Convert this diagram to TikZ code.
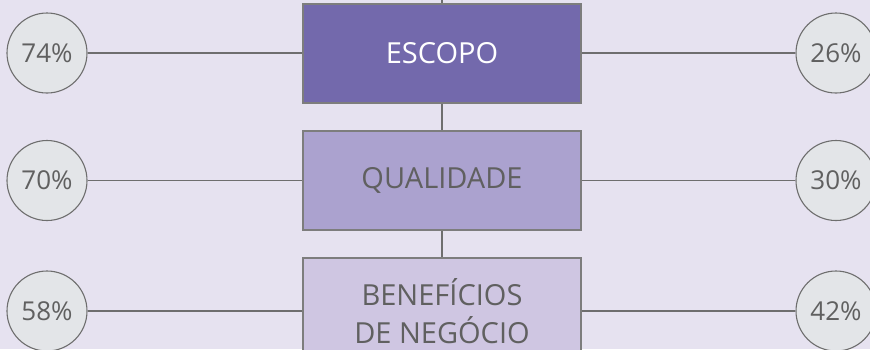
\documentclass[tikz,border=0pt]{standalone}
\usepackage{fontspec}
\setmainfont{Open Sans}
\definecolor{bgc}{HTML}{E6E2F0}
\definecolor{boxa}{HTML}{7369AC}
\definecolor{boxb}{HTML}{ABA2CF}
\definecolor{boxc}{HTML}{CFC6E2}
\definecolor{circf}{HTML}{E3E5E8}
\definecolor{linec}{HTML}{6E6E6E}
\definecolor{txtc}{HTML}{606060}
\begin{document}
\begin{tikzpicture}[x=1pt,y=-1pt,
  blockbox/.style={draw=linec!90, line width=1.1pt, minimum width=278pt, minimum height=99pt, inner sep=0pt, font=\fontsize{29}{38}\selectfont, text=txtc, align=center},
  pct/.style={circle, draw=linec, line width=1.1pt, fill=circf, minimum size=80pt, inner sep=0pt, font=\fontsize{26}{30}\selectfont, text=txtc},
  conn/.style={draw=linec, line width=1.2pt}]
\fill[bgc] (0,0) rectangle (870,349);
\useasboundingbox (0,0) rectangle (870,349);
\clip (0,0) rectangle (870,349);
\coordinate (top) at (442,0);
\node[blockbox, fill=boxa, text=white] (b1) at (442,53.5) {ESCOPO};
\node[blockbox, fill=boxb] (b2) at (442,180.5) {QUALIDADE};
\node[blockbox, fill=boxc, minimum height=106pt] (b3) at (442,311) {BENEFÍCIOS\\DE NEGÓCIO};
\node[pct] (l1) at (47,53) {74\%};
\node[pct] (r1) at (836,53) {26\%};
\node[pct] (l2) at (47,180.5) {70\%};
\node[pct] (r2) at (836,180.5) {30\%};
\node[pct] (l3) at (47,311) {58\%};
\node[pct] (r3) at (836,311) {42\%};
\draw[conn] (top) -- (b1.north);
\draw[conn] (b1.south) -- (b2.north);
\draw[conn] (b2.south) -- (b3.north);
\draw[conn] (l1.east) -- (l1.east -| b1.west);
\draw[conn] (r1.west) -- (r1.west -| b1.east);
\draw[conn] (l2.east) -- (l2.east -| b2.west);
\draw[conn] (r2.west) -- (r2.west -| b2.east);
\draw[conn] (l3.east) -- (l3.east -| b3.west);
\draw[conn] (r3.west) -- (r3.west -| b3.east);
\end{tikzpicture}
\end{document}
